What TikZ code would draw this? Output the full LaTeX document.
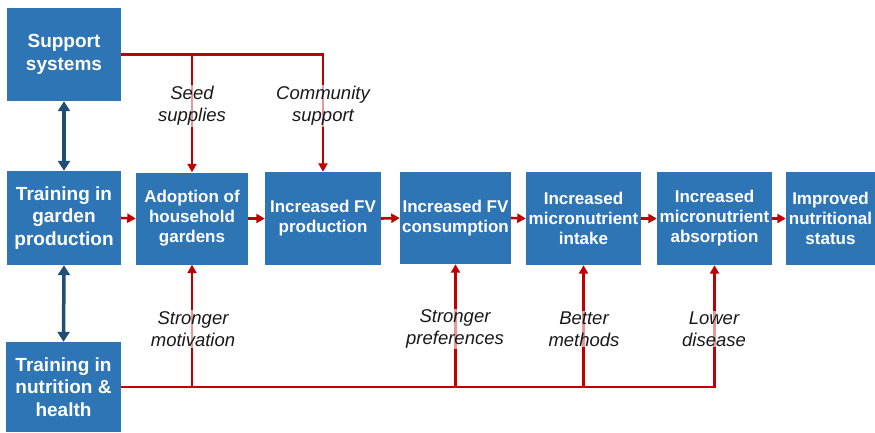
\documentclass[tikz,border=0pt]{standalone}
\usepackage{fontspec}
\setmainfont{Liberation Sans}
\usetikzlibrary{arrows.meta}
\definecolor{boxblue}{HTML}{2E75B6}
\definecolor{darkblue}{HTML}{1F4E79}
\definecolor{arrred}{HTML}{C00000}
\begin{document}
\begin{tikzpicture}[x=1pt,y=-1pt,
  box/.style={fill=boxblue, text=white, font=\bfseries\fontsize{17}{20}\selectfont, align=center, inner sep=0pt},
  bigbox/.style={box, font=\bfseries\fontsize{19}{22.5}\selectfont},
  lbl/.style={font=\itshape\fontsize{18.5}{22}\selectfont, text=black!90, align=center, fill=white, fill opacity=0.6, text opacity=1, inner sep=1pt},
  redarr/.style={draw=arrred, line width=2.6pt, -{Triangle[length=8.5pt,width=9pt]}},
  bluearr/.style={draw=darkblue, line width=3.5pt, {Triangle[length=10pt,width=12pt]}-{Triangle[length=10pt,width=12pt]}}]
\useasboundingbox (0,0) rectangle (875,432);
\fill[white] (0,0) rectangle (875,432);
% boxes
\node[bigbox, minimum width=114pt, minimum height=93pt] (sup) at (64,54.5) {Support\\systems};
\node[bigbox, minimum width=114pt, minimum height=94pt] (tg) at (64,218) {Training in\\garden\\production};
\node[bigbox, minimum width=115pt, minimum height=90pt] (tn) at (63.5,387) {Training in\\nutrition \&\\health};
\node[box, minimum width=112pt, minimum height=92pt] (ado) at (192,218.5) {Adoption of\\household\\gardens};
\node[box, minimum width=116pt, minimum height=93pt] (fvp) at (323,218.5) {Increased FV\\production};
\node[box, minimum width=111pt, minimum height=92pt] (fvc) at (455.5,218) {Increased FV\\consumption};
\node[box, minimum width=115pt, minimum height=93pt] (mii) at (583.5,218.5) {Increased\\micronutrient\\intake};
\node[box, minimum width=115pt, minimum height=93pt] (mia) at (714.5,218.5) {Increased\\micronutrient\\absorption};
\node[box, minimum width=89pt, minimum height=93pt] (imp) at (830.5,218.5) {Improved\\nutritional\\status};
% blue double arrows
\draw[bluearr] (sup.south) -- (tg.north);
\draw[bluearr] (tg.south) -- (tn.north);
% horizontal chain
\draw[redarr] (tg.east) -- (ado.west);
\draw[redarr] (ado.east) -- (fvp.west);
\draw[redarr] (fvp.east) -- (fvc.west);
\draw[redarr] (fvc.east) -- (mii.west);
\draw[redarr] (mii.east) -- (mia.west);
\draw[redarr] (mia.east) -- (imp.west);
% top support lines
\draw[redarr] (sup.east) -| (fvp.north);
\draw[redarr] (ado.north |- sup.east) -- (ado.north);
% bottom training lines
\draw[redarr] (tn.east) -| (mia.south);
\draw[redarr] (ado.south |- tn.east) -- (ado.south);
\draw[redarr] (fvc.south |- tn.east) -- (fvc.south);
\draw[redarr] (mii.south |- tn.east) -- (mii.south);
% labels
\node[lbl] (l1) at (192,106) {Seed\\supplies};
\node[lbl] (l2) at (323,106) {Community\\support};
\node[lbl] (l3) at (193,329) {Stronger\\motivation};
\node[lbl] (l4) at (455,329) {Stronger\\preferences};
\node[lbl] (l5) at (584,329) {Better\\methods};
\node[lbl] (l6) at (714,329) {Lower\\disease};
\end{tikzpicture}
\end{document}
